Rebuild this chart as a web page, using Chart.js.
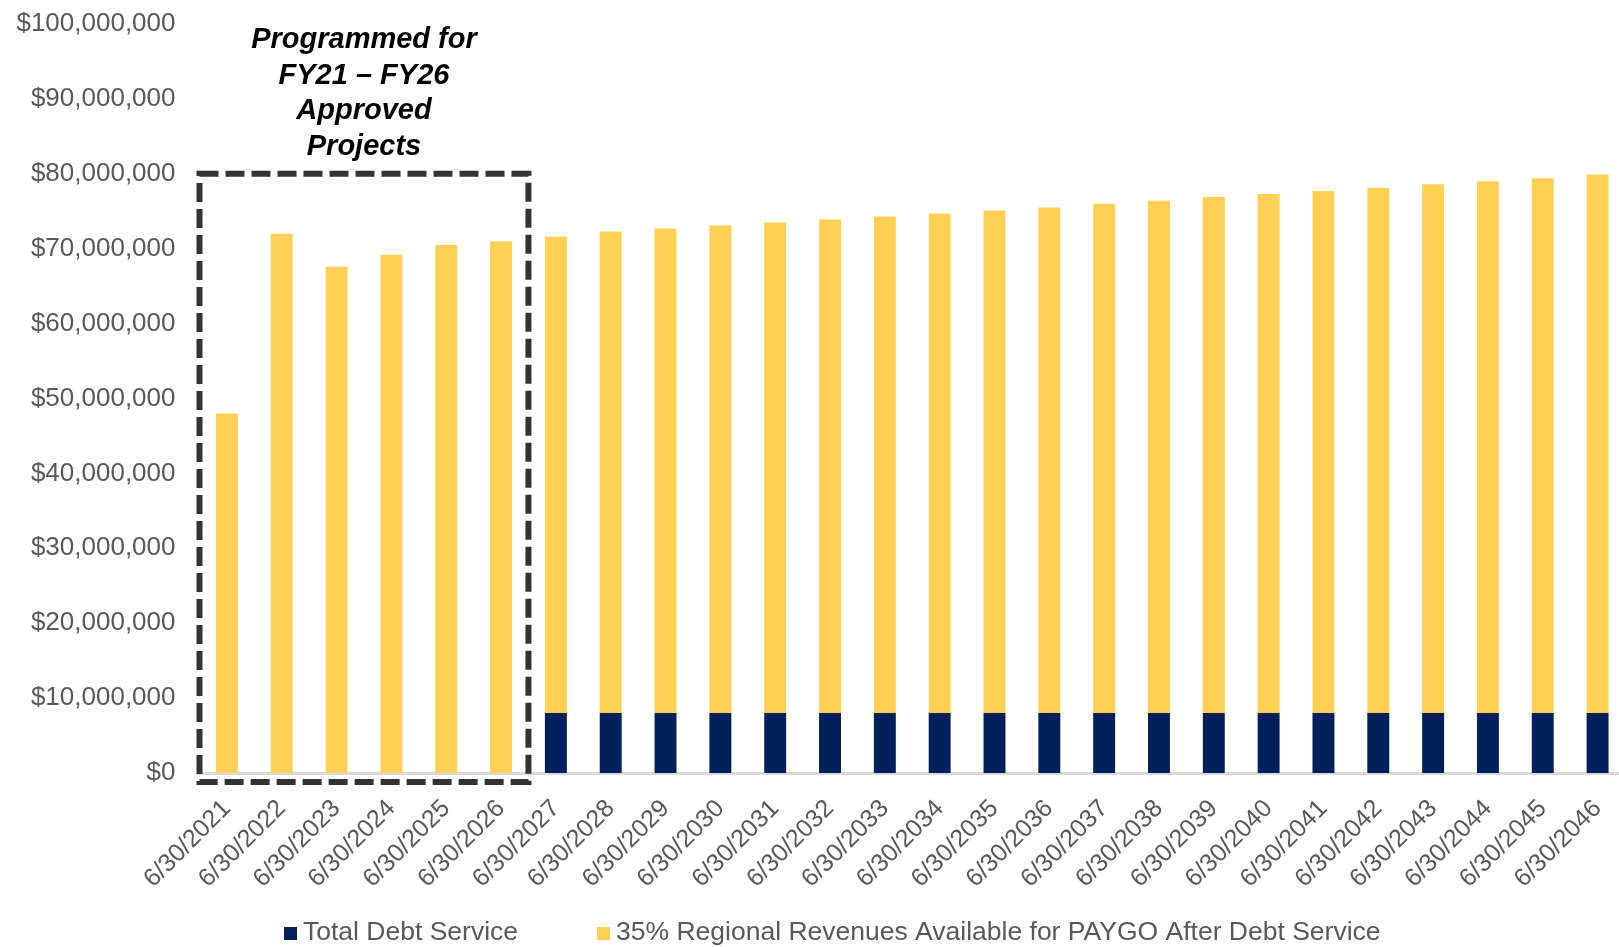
<!DOCTYPE html>
<html>
<head>
<meta charset="utf-8">
<script src="https://cdn.jsdelivr.net/npm/chart.js@4.4.1/dist/chart.umd.min.js"></script>
<style>
	html, body { margin: 0; padding: 0; background: #fff; overflow: hidden; }
	#wrap { width: 1626px; height: 947px; position: relative; }
</style>
</head>
<body>
<div id="wrap"><canvas id="chart"></canvas></div>
<script>
// fiscal year end dates
var years = ['6/30/2021', '6/30/2022', '6/30/2023', '6/30/2024', '6/30/2025', '6/30/2026',
	'6/30/2027', '6/30/2028', '6/30/2029', '6/30/2030', '6/30/2031', '6/30/2032', '6/30/2033',
	'6/30/2034', '6/30/2035', '6/30/2036', '6/30/2037', '6/30/2038', '6/30/2039', '6/30/2040',
	'6/30/2041', '6/30/2042', '6/30/2043', '6/30/2044', '6/30/2045', '6/30/2046'];

var debtService = [0, 0, 0, 0, 0, 0,
	8.0e6, 8.0e6, 8.0e6, 8.0e6, 8.0e6, 8.0e6, 8.0e6, 8.0e6, 8.0e6, 8.0e6,
	8.0e6, 8.0e6, 8.0e6, 8.0e6, 8.0e6, 8.0e6, 8.0e6, 8.0e6, 8.0e6, 8.0e6];

var paygo = [48.0e6, 72.0e6, 67.6e6, 69.2e6, 70.5e6, 71.0e6,
	63.6e6, 64.3e6, 64.7e6, 65.1e6, 65.5e6, 65.9e6, 66.3e6, 66.7e6, 67.1e6, 67.5e6,
	68.0e6, 68.4e6, 68.9e6, 69.3e6, 69.7e6, 70.1e6, 70.6e6, 71.0e6, 71.4e6, 71.9e6];

var seriesNames = ['Total Debt Service', '35% Regional Revenues Available for PAYGO After Debt Service'];
var seriesColors = ['#00205b', '#ffd054'];

var yTicks = [0, 10e6, 20e6, 30e6, 40e6, 50e6, 60e6, 70e6, 80e6, 90e6, 100e6];

var boxTitle = ['Programmed for', 'FY21 \u2013 FY26', 'Approved', 'Projects'];
var boxFirst = 0, boxLast = 5, boxTop = 80e6;

var FONT = '"Liberation Sans", Arial, sans-serif';

// dashed box round the programmed years + its title
var programmedBox = {
	id: 'programmedBox',
	afterDraw: function(chart){
		var x = chart.scales.x, y = chart.scales.y;
		var half = (x.getPixelForValue(1) - x.getPixelForValue(0)) / 2;
		var left = x.getPixelForValue(boxFirst) - half;
		var right = x.getPixelForValue(boxLast) + half;
		var top = y.getPixelForValue(boxTop);
		var bottom = y.getPixelForValue(0) + 9;
		var ctx = chart.ctx;
		ctx.save();
		ctx.strokeStyle = '#333333';
		ctx.lineWidth = 6;
		ctx.setLineDash([19, 7]);
		ctx.strokeRect(left, top, right - left, bottom - top);
		ctx.setLineDash([]);
		ctx.fillStyle = '#000';
		ctx.font = 'italic bold 29px ' + FONT;
		ctx.textAlign = 'center';
		ctx.textBaseline = 'middle';
		for(var i = 0; i < boxTitle.length; i++){
			ctx.fillText(boxTitle[i], (left + right) / 2, 40 + i * 35.5);
		}
		ctx.restore();
	}
};

// legend at the bottom, spaced like the original
var bottomLegend = {
	id: 'bottomLegend',
	afterDraw: function(chart){
		var ctx = chart.ctx;
		ctx.save();
		ctx.font = '26.5px ' + FONT;
		ctx.textBaseline = 'middle';
		ctx.textAlign = 'left';
		var lx = 284;
		for(var i = 0; i < chart.data.datasets.length; i++){
			var ds = chart.data.datasets[i];
			ctx.fillStyle = ds.backgroundColor;
			ctx.fillRect(lx, 927, 13, 13);
			lx += 13 + 6;
			ctx.fillStyle = '#595959';
			ctx.fillText(ds.label, lx, 933);
			lx += ctx.measureText(ds.label).width + 79;
		}
		ctx.restore();
	}
};

var datasets = [];
var seriesValues = [debtService, paygo];
for(var i = 0; i < seriesNames.length; i++){
	datasets.push({
		label: seriesNames[i],
		data: seriesValues[i],
		backgroundColor: seriesColors[i],
		borderWidth: 0,
		barPercentage: 0.8,
		categoryPercentage: 0.5
	});
}

var chart = new Chart(document.getElementById('chart'), {
	type: 'bar',
	data: {
		labels: years,
		datasets: datasets
	},
	options: {
		responsive: true,
		maintainAspectRatio: false,
		animation: false,
		layout: {
			padding: { top: 24, right: 1, bottom: 0, left: 0 }
		},
		plugins: {
			legend: { display: false },
			tooltip: { enabled: false }
		},
		scales: {
			x: {
				stacked: true,
				grid: { display: false, drawTicks: false },
				border: { display: true, color: '#d9d9d9', width: 3 },
				ticks: {
					autoSkip: false,
					maxRotation: 45,
					minRotation: 45,
					padding: 21,
					color: '#595959',
					font: { family: FONT, size: 25 }
				},
				afterFit: function(scale){
					scale.height = 174;
					scale.paddingLeft = 0;
					scale.paddingRight = 0;
				}
			},
			y: {
				stacked: true,
				min: 0,
				max: 100e6,
				grid: { display: false, drawTicks: false },
				border: { display: false },
				afterBuildTicks: function(scale){
					scale.ticks = yTicks.map(function(v){ return { value: v }; });
				},
				ticks: {
					padding: 24,
					color: '#595959',
					font: { family: FONT, size: 26 },
					callback: function(v){ return '$' + Number(v).toLocaleString('en-US'); }
				},
				afterFit: function(scale){
					scale.width = 199.5;
					scale.paddingTop = 0;
					scale.paddingBottom = 0;
				}
			}
		}
	},
	plugins: [programmedBox, bottomLegend]
});
</script>
</body>
</html>
